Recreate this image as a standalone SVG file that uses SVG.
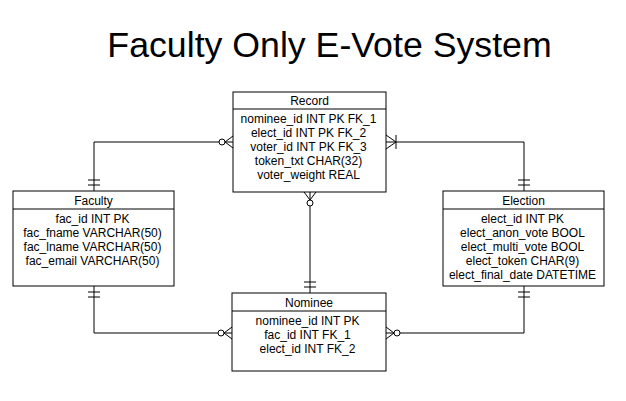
<svg xmlns="http://www.w3.org/2000/svg" width="626" height="401" viewBox="0 0 626 401">
<style>
.box{fill:#fff;stroke:#000;stroke-width:1}
.sep{stroke:#000;stroke-width:1}
.t{font-family:"Liberation Sans",Arial,sans-serif;font-size:12px;fill:#000;text-anchor:middle}
.title{font-family:"Liberation Sans",Arial,sans-serif;font-size:35.7px;fill:#000;text-anchor:middle}
.c{fill:none;stroke:#000;stroke-width:1}
.m{fill:none;stroke:#000;stroke-width:1}
.mc{fill:#fff;stroke:#000;stroke-width:1}
</style>
<defs>
<marker id="mandOne" markerUnits="userSpaceOnUse" orient="auto-start-reverse" overflow="visible" markerWidth="20" markerHeight="20" refX="0" refY="0">
<path class="m" d="M-6,-6V6M-11,-6V6"/>
</marker>
<marker id="zeroMany" markerUnits="userSpaceOnUse" orient="auto-start-reverse" overflow="visible" markerWidth="20" markerHeight="20" refX="0" refY="0">
<path class="m" d="M0,-6L-8,0L0,6"/>
<circle class="mc" cx="-11" cy="0" r="3"/>
</marker>
<marker id="oneMany" markerUnits="userSpaceOnUse" orient="auto-start-reverse" overflow="visible" markerWidth="20" markerHeight="20" refX="0" refY="0">
<path class="m" d="M0,-7L-10,0L0,7M-10,-7V7"/>
</marker>
</defs>
<text class="title" x="329.5" y="57">Faculty Only E-Vote System</text>
<g id="connectors">
<path class="c" d="M233,142H94V191" marker-start="url(#zeroMany)" marker-end="url(#mandOne)"/>
<path class="c" d="M386,142H524V191" marker-start="url(#oneMany)" marker-end="url(#mandOne)"/>
<path class="c" d="M310,192V293" marker-start="url(#zeroMany)" marker-end="url(#mandOne)"/>
<path class="c" d="M94,286V333H232" marker-start="url(#mandOne)" marker-end="url(#zeroMany)"/>
<path class="c" d="M524,286V333H386" marker-start="url(#mandOne)" marker-end="url(#zeroMany)"/>
</g>
<g id="record">
<rect class="box" x="233" y="92" width="153" height="100"/>
<line class="sep" x1="233" y1="109" x2="386" y2="109"/>
<text class="t" x="309.5" y="104.5">Record</text>
<text class="t" x="308.5" y="122.5">nominee_id INT PK FK_1</text>
<text class="t" x="308.5" y="136.5">elect_id INT PK FK_2</text>
<text class="t" x="308.5" y="150.5">voter_id INT PK FK_3</text>
<text class="t" x="308.5" y="164.5">token_txt CHAR(32)</text>
<text class="t" x="308.5" y="178.5">voter_weight REAL</text>
</g>
<g id="faculty">
<rect class="box" x="13" y="191" width="161" height="95"/>
<line class="sep" x1="13" y1="209" x2="174" y2="209"/>
<text class="t" x="93.5" y="205">Faculty</text>
<text class="t" x="92.5" y="223">fac_id INT PK</text>
<text class="t" x="92.5" y="237">fac_fname VARCHAR(50)</text>
<text class="t" x="92.5" y="251">fac_lname VARCHAR(50)</text>
<text class="t" x="92.5" y="265">fac_email VARCHAR(50)</text>
</g>
<g id="election">
<rect class="box" x="443" y="191" width="161" height="95"/>
<line class="sep" x1="443" y1="209" x2="604" y2="209"/>
<text class="t" x="523.5" y="205">Election</text>
<text class="t" x="522.5" y="223">elect_id INT PK</text>
<text class="t" x="522.5" y="237">elect_anon_vote BOOL</text>
<text class="t" x="522.5" y="251">elect_multi_vote BOOL</text>
<text class="t" x="522.5" y="265">elect_token CHAR(9)</text>
<text class="t" x="522.5" y="279">elect_final_date DATETIME</text>
</g>
<g id="nominee">
<rect class="box" x="232" y="293" width="154" height="78"/>
<line class="sep" x1="232" y1="311" x2="386" y2="311"/>
<text class="t" x="309" y="306.5">Nominee</text>
<text class="t" x="307.5" y="325">nominee_id INT PK</text>
<text class="t" x="307.5" y="339">fac_id INT FK_1</text>
<text class="t" x="307.5" y="353">elect_id INT FK_2</text>
</g>
</svg>
